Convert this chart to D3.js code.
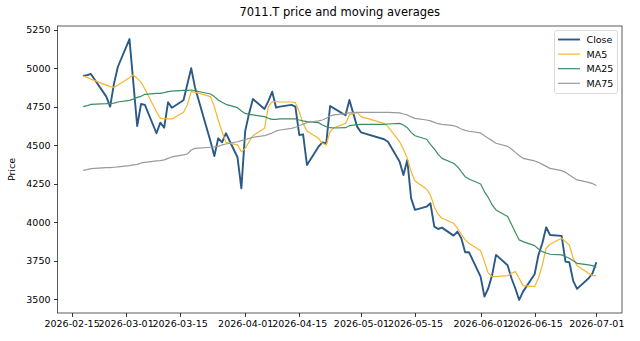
<!DOCTYPE html>
<html>
<head>
  <meta charset="utf-8">
  <script src="https://d3js.org/d3.v7.min.js"></script>
  <style>
    body { margin: 0; background: #fff; font-family: "DejaVu Sans", sans-serif; }
    .axis path, .axis line { stroke: #333; shape-rendering: crispEdges; }
    .axis text { font-size: 9.5px; fill: #000; font-family: "DejaVu Sans", sans-serif; }
  </style>
</head>
<body>
  <div id="chart"></div>
  <script>
    // trading days (Japanese holidays skipped)
    var dates = [
      "2026-02-18","2026-02-19","2026-02-20","2026-02-24","2026-02-25","2026-02-26","2026-02-27",
      "2026-03-02","2026-03-03","2026-03-04","2026-03-05","2026-03-06",
      "2026-03-09","2026-03-10","2026-03-11","2026-03-12","2026-03-13",
      "2026-03-16","2026-03-17","2026-03-18","2026-03-19",
      "2026-03-23","2026-03-24","2026-03-25","2026-03-26","2026-03-27",
      "2026-03-30","2026-03-31","2026-04-01","2026-04-02","2026-04-03",
      "2026-04-06","2026-04-07","2026-04-08","2026-04-09","2026-04-10",
      "2026-04-13","2026-04-14","2026-04-15","2026-04-16","2026-04-17",
      "2026-04-20","2026-04-21","2026-04-22","2026-04-23","2026-04-24",
      "2026-04-27","2026-04-28","2026-04-30","2026-05-01",
      "2026-05-07","2026-05-08",
      "2026-05-11","2026-05-12","2026-05-13","2026-05-14","2026-05-15",
      "2026-05-18","2026-05-19","2026-05-20","2026-05-21","2026-05-22",
      "2026-05-25","2026-05-26","2026-05-27","2026-05-28","2026-05-29",
      "2026-06-01","2026-06-02","2026-06-03","2026-06-04","2026-06-05",
      "2026-06-08","2026-06-09","2026-06-10","2026-06-11","2026-06-12",
      "2026-06-15","2026-06-16","2026-06-17","2026-06-18","2026-06-19",
      "2026-06-22","2026-06-23","2026-06-24","2026-06-25","2026-06-26",
      "2026-06-29","2026-06-30","2026-07-01"
    ];

    var closeValues = [
      4950, 4956, 4963, 4816, 4751, 4902, 5010,
      5190, 4909, 4625, 4768, 4762,
      4578, 4647, 4614, 4779, 4744,
      4792, 4896, 5000, 4874,
      4526, 4430, 4545, 4519, 4578,
      4422, 4220, 4593, 4707, 4800,
      4736, 4787, 4848, 4744, 4751,
      4762, 4751, 4567, 4571, 4372,
      4491, 4519, 4513, 4755, 4740,
      4695, 4794, 4621, 4584,
      4539, 4523,
      4394, 4307, 4404, 4155, 4080,
      4101, 4123, 3971, 3956, 3965,
      3913, 3939, 3896, 3805, 3805,
      3647, 3517, 3571, 3658, 3788,
      3720, 3636, 3571, 3495, 3549,
      3662, 3788, 3863, 3967, 3917,
      3911, 3744, 3740, 3619, 3567,
      3636, 3668, 3740
    ];

    var ma5 = [
      4950, 4941, 4930, 4891, 4881, 4876, 4891,
      4939, 4956, 4935, 4909, 4865,
      4718, 4675, 4673, 4671, 4671,
      4714, 4762, 4848, 4845,
      4816, 4751, 4664, 4588, 4519,
      4502, 4458, 4480, 4523, 4562,
      4610, 4751, 4783, 4783, 4781,
      4781, 4777, 4718, 4642, 4593,
      4545, 4513, 4502, 4588, 4614,
      4642, 4697, 4714, 4686,
      4642, 4621,
      4523, 4476, 4415, 4329, 4268,
      4216, 4177, 4101, 4052, 4026,
      3993, 3961, 3922, 3885, 3863,
      3815, 3744, 3668, 3647, 3647,
      3653, 3668, 3679, 3636, 3588,
      3582, 3636, 3723, 3831, 3857,
      3896, 3874, 3852, 3766, 3718,
      3668, 3653, 3653
    ];

    var ma25 = [
      4751, 4757, 4766, 4770, 4772, 4774, 4781,
      4792, 4800, 4811, 4818, 4831,
      4837, 4837, 4842, 4848, 4852,
      4857, 4857, 4859, 4854,
      4833, 4816, 4794, 4779, 4766,
      4744, 4723, 4707, 4701, 4697,
      4686, 4675, 4668, 4668, 4671,
      4671, 4671, 4664, 4658, 4653,
      4647, 4632, 4621, 4614, 4612,
      4614, 4627, 4634, 4636,
      4636, 4638,
      4642, 4632, 4614, 4584, 4562,
      4539, 4506, 4476, 4441, 4415,
      4383, 4361, 4329, 4296, 4281,
      4248, 4199, 4160, 4112, 4080,
      4037, 3987, 3935, 3885, 3874,
      3848, 3826, 3809, 3800, 3792,
      3788, 3777, 3766, 3749, 3733,
      3723, 3718, 3705
    ];

    var ma75 = [
      4337, 4342, 4348, 4355, 4355, 4357, 4359,
      4368, 4372, 4376, 4385, 4389,
      4398, 4400, 4405, 4415, 4424,
      4437, 4443, 4469, 4480,
      4487, 4489, 4493, 4502, 4508,
      4523, 4530, 4536, 4545, 4552,
      4562, 4571, 4580, 4593, 4599,
      4610, 4617, 4627, 4638, 4647,
      4658, 4664, 4675, 4690, 4697,
      4705, 4710, 4714, 4714,
      4714, 4714,
      4710, 4703, 4697, 4684, 4675,
      4664, 4658, 4649, 4640, 4636,
      4627, 4619, 4606, 4597, 4591,
      4580, 4562, 4545, 4530, 4513,
      4493, 4476, 4454, 4433, 4415,
      4398, 4389, 4376, 4363, 4350,
      4335, 4324, 4307, 4290, 4275,
      4259, 4251, 4238
    ];

    var xTickLabels = ["2026-02-15","2026-03-01","2026-03-15","2026-04-01","2026-04-15",
                       "2026-05-01","2026-05-15","2026-06-01","2026-06-15","2026-07-01"];
    var yTicks = [3500, 3750, 4000, 4250, 4500, 4750, 5000, 5250];

    var seriesNames = ["Close", "MA5", "MA25", "MA75"];

    // ---- layout (plot box in page pixels) ----
    var W = 640, H = 341;
    var plot = { x0: 57.5, x1: 622, y0: 26, y1: 313 };

    var parse = d3.timeParse("%Y-%m-%d");
    var fmt = d3.timeFormat("%Y-%m-%d");
    var xs = dates.map(parse);

    var series = [
      { name: seriesNames[0], values: closeValues, color: "#2b5a87", width: 1.9 },
      { name: seriesNames[1], values: ma5,   color: "#f7b52c", width: 1.2 },
      { name: seriesNames[2], values: ma25,  color: "#3b8d62", width: 1.2 },
      { name: seriesNames[3], values: ma75,  color: "#9a9a9a", width: 1.2 }
    ];

    // matplotlib style 5% padding
    var t0 = xs[0].getTime(), t1 = xs[xs.length - 1].getTime();
    var tp = (t1 - t0) * 0.05;
    var all = closeValues.concat(ma5, ma25, ma75);
    var vmin = d3.min(all), vmax = d3.max(all), vp = (vmax - vmin) * 0.05;

    var x = d3.scaleTime().domain([new Date(t0 - tp), new Date(t1 + tp)]).range([plot.x0, plot.x1]);
    var y = d3.scaleLinear().domain([vmin - vp, vmax + vp]).range([plot.y1, plot.y0]);

    var svg = d3.select("#chart").append("svg")
      .attr("width", W).attr("height", H);

    svg.append("text")
      .attr("x", (plot.x0 + plot.x1) / 2).attr("y", 16)
      .attr("text-anchor", "middle")
      .style("font-size", "11.5px")
      .text("7011.T price and moving averages");

    svg.append("g")
      .attr("class", "axis")
      .attr("transform", "translate(0," + plot.y1 + ")")
      .call(d3.axisBottom(x).tickValues(xTickLabels.map(parse)).tickFormat(fmt)
        .tickSizeInner(3.5).tickSizeOuter(0).tickPadding(3.5));

    svg.append("g")
      .attr("class", "axis")
      .attr("transform", "translate(" + plot.x0 + ",0)")
      .call(d3.axisLeft(y).tickValues(yTicks).tickFormat(d3.format("d"))
        .tickSizeInner(3.5).tickSizeOuter(0).tickPadding(3.5));

    svg.selectAll(".axis .domain").remove();

    svg.append("text")
      .attr("transform", "translate(15," + ((plot.y0 + plot.y1) / 2) + ") rotate(-90)")
      .attr("text-anchor", "middle")
      .style("font-size", "9.5px")
      .text("Price");

    var line = d3.line()
      .x(function(d, i) { return x(xs[i]); })
      .y(function(d) { return y(d); });

    series.forEach(function(s) {
      svg.append("path")
        .datum(s.values)
        .attr("fill", "none")
        .attr("stroke", s.color)
        .attr("stroke-width", s.width)
        .attr("stroke-linejoin", "round")
        .attr("d", line);
    });

    // frame
    svg.append("rect")
      .attr("x", plot.x0).attr("y", plot.y0)
      .attr("width", plot.x1 - plot.x0).attr("height", plot.y1 - plot.y0)
      .attr("fill", "none").attr("stroke", "#333").attr("stroke-width", 0.8);

    // legend
    var lg = svg.append("g");
    lg.append("rect")
      .attr("x", 554.5).attr("y", 30.5).attr("width", 63).attr("height", 63)
      .attr("rx", 2.5)
      .attr("fill", "#fff").attr("fill-opacity", 0.8)
      .attr("stroke", "#d0d0d0").attr("stroke-width", 0.8);
    series.forEach(function(s, i) {
      var yy = 39.5 + i * 14.6;
      lg.append("line")
        .attr("x1", 558).attr("x2", 580).attr("y1", yy).attr("y2", yy)
        .attr("stroke", s.color).attr("stroke-width", s.width);
      lg.append("text")
        .attr("x", 586.5).attr("y", yy + 3.4)
        .style("font-size", "9.5px")
        .text(s.name);
    });
  </script>
</body>
</html>
